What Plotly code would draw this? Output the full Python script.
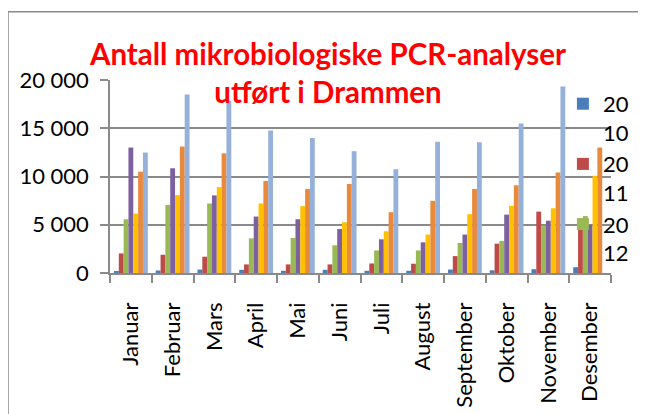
import plotly.graph_objects as go

months = ["Januar", "Februar", "Mars", "April", "Mai", "Juni", "Juli",
          "August", "September", "Oktober", "November", "Desember"]
years = ["2010", "2011", "2012", "2013", "2014", "2015", "2016"]

v2010 = [200, 260, 360, 330, 230, 330, 230, 230, 360, 280, 390, 600]
v2011 = [2030, 1890, 1690, 890, 890, 890, 990, 960, 1750, 3040, 6360, 5200]
v2012 = [5570, 7060, 7200, 3590, 3630, 2870, 2340, 2340, 3110, 3320, 4860, 5900]
v2013 = [13000, 10850, 8040, 5850, 5570, 4560, 3490, 3180, 3980, 6050, 5420, 5000]
v2014 = [6160, 8070, 8900, 7200, 6930, 5260, 4320, 3980, 6100, 6960, 6710, 10080]
v2015 = [10500, 13100, 12400, 9530, 8700, 9220, 6300, 7480, 8700, 9090, 10420, 13000]
v2016 = [12480, 18490, 17860, 14770, 13980, 12620, 10750, 13600, 13560, 15480, 19330, None]

series = [v2010, v2011, v2012, v2013, v2014, v2015, v2016]
colors = ["#4A7EBB", "#BE4B48", "#98B954", "#7D60A0", "#FFC000", "#E8893C", "#95B0D9"]
legend_visible = [True, True, True, False, False, False, False]

FONT = "Lato"
# the page body keeps the browser's default 8px margin, so the figure is
# sized 8px smaller and all margins are offset by 8px to land on the reference.
W, H = 638, 406

fig = go.Figure()
for name, vals, col, show in zip(years, series, colors, legend_visible):
    fig.add_trace(go.Bar(
        x=months, y=vals, name=name[:2] + "<br>" + name[2:],
        marker=dict(color=col, line=dict(width=0)),
        showlegend=show,
    ))

fig.update_layout(
    width=W, height=H,
    margin=dict(l=102, r=35, t=72, b=141, autoexpand=False),
    paper_bgcolor="white", plot_bgcolor="white",
    separators=", ",
    barmode="group", bargap=0.19, bargroupgap=0,
    font=dict(family=FONT, color="black", size=22),
    title=dict(
        text="<b>Antall mikrobiologiske PCR-analyser<br>utført i Drammen</b>",
        font=dict(family=FONT, size=29.5, color="#FF0000"),
        x=320 / W, xanchor="center", xref="container",
        y=1 - 57 / H, yanchor="top", yref="container",
    ),
    legend=dict(
        x=0.904, xanchor="left", y=0.985, yanchor="top",
        valign="top",
        bgcolor="rgba(0,0,0,0)", font=dict(family=FONT, size=22, color="black"),
        itemwidth=30, tracegroupgap=0,
    ),
    showlegend=True,
)

fig.update_yaxes(
    range=[0, 20000], tickvals=[0, 5000, 10000, 15000, 20000], tickformat=",d",
    showgrid=True, gridcolor="#8A8A8A", gridwidth=1.5,
    showline=True, linecolor="#8A8A8A", linewidth=1.5,
    ticks="outside", ticklen=8, tickcolor="#8A8A8A", tickwidth=1.5,
    ticklabelstandoff=7, automargin=False,
    tickfont=dict(family=FONT, size=22, color="black"),
    zeroline=False,
)
fig.update_xaxes(
    showline=True, linecolor="#8A8A8A", linewidth=1.5,
    ticks="outside", ticklen=8, tickcolor="#8A8A8A", tickwidth=1.5,
    tickson="boundaries", tickangle=-90,
    ticklabelstandoff=19, automargin=False,
    tickfont=dict(family=FONT, size=22, color="black"),
)

# outer chart frame (extends past the right and bottom edges like the reference)
fig.add_shape(type="rect", xref="paper", yref="paper",
              x0=-0.2036, x1=1.3, y0=-1.0, y1=1.353,
              line=dict(color="#8A8A8A", width=1.5), fillcolor="rgba(0,0,0,0)",
              layer="below")

fig.write_html("out.html", config={"displayModeBar": False})
